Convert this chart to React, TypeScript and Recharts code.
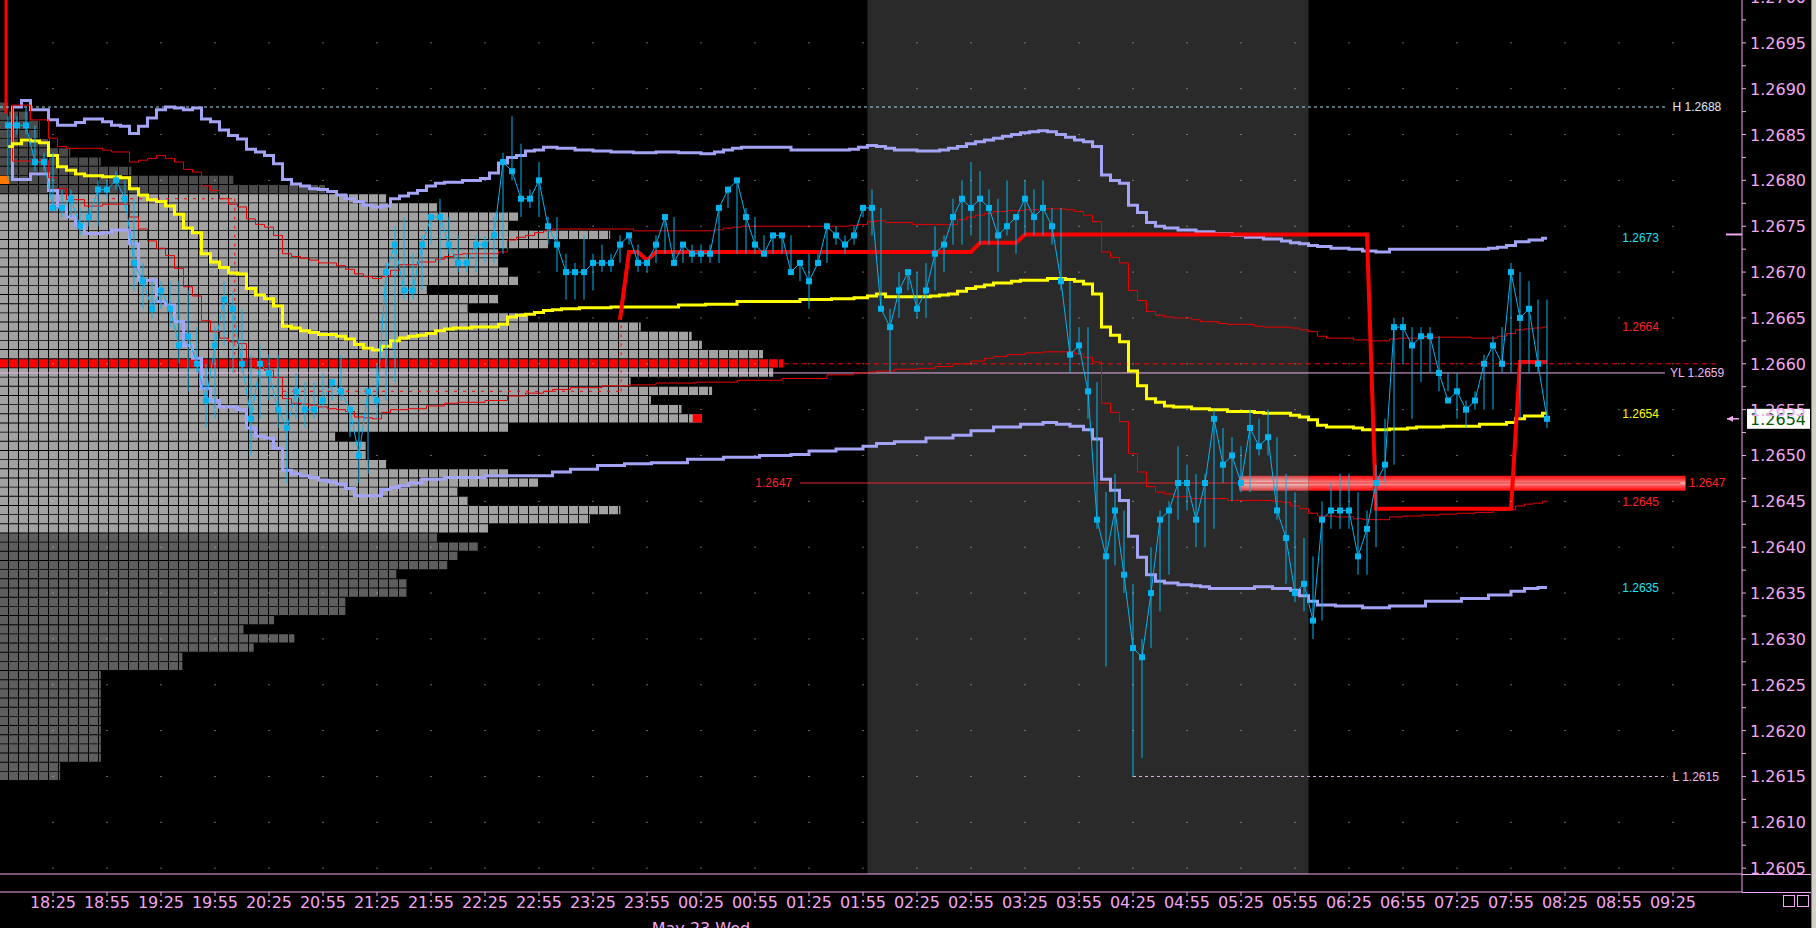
import React from 'react';
import {
  ComposedChart, Line, XAxis, YAxis, ReferenceArea, ReferenceLine,
  ReferenceDot, Scatter, ErrorBar,
} from 'recharts';

// ---------------- data ----------------
const BAR_MINUTES = 5; // 5-minute bars, bar 0 = 18:00
const PIP = 0.0001;

const TIME_LABELS = ['18:25','18:55','19:25','19:55','20:25','20:55','21:25','21:55','22:25','22:55','23:25','23:55','00:25','00:55','01:25','01:55','02:25','02:55','03:25','03:55','04:25','04:55','05:25','05:55','06:25','06:55','07:25','07:55','08:25','08:55','09:25'];
const DATE_LABEL = 'May 23 Wed';
const DATE_UNDER = '00:25';
const PRICE_LABELS = ['1.2605','1.2610','1.2615','1.2620','1.2625','1.2630','1.2635','1.2640','1.2645','1.2650','1.2655','1.2660','1.2665','1.2670','1.2675','1.2680','1.2685','1.2690','1.2695','1.2700'];

const CLOSES = [
  1.2686,1.2686,1.2686,1.2682,1.2682,1.2677,1.2677,1.2678,1.2675,1.2676,
  1.2679,1.2679,1.2680,1.2678,1.2671,1.2669,1.2666,1.2668,1.2666,1.2662,
  1.2663,1.2660,1.2656,1.2662,1.2667,1.2666,1.2660,1.2654,1.2660,1.2659,
  1.2655,1.2653,1.2657,1.2655,1.2655,1.2656,1.2658,1.2657,1.2655,1.2650,
  1.2657,1.2656,1.2670,1.2673,1.2668,1.2668,1.2673,1.2676,1.2676,1.2673,
  1.2671,1.2671,1.2673,1.2673,1.2674,1.2682,1.2681,1.2678,1.2678,1.2680,
  1.2675,1.2673,1.2670,1.2670,1.2670,1.2671,1.2671,1.2671,1.2673,1.2674,
  1.2671,1.2671,1.2673,1.2676,1.2671,1.2673,1.2672,1.2672,1.2672,1.2677,
  1.2679,1.2680,1.2676,1.2673,1.2672,1.2674,1.2674,1.2670,1.2671,1.2669,
  1.2671,1.2675,1.2674,1.2673,1.2674,1.2677,1.2677,1.2666,1.2664,1.2668,
  1.2670,1.2666,1.2668,1.2672,1.2673,1.2676,1.2678,1.2677,1.2678,1.2677,
  1.2674,1.2675,1.2676,1.2678,1.2676,1.2677,1.2675,1.2669,1.2661,1.2662,
  1.2657,1.2643,1.2639,1.2644,1.2637,1.2629,1.2628,1.2635,1.2643,1.2644,
  1.2647,1.2647,1.2643,1.2647,1.2654,1.2649,1.2650,1.2647,1.2653,1.2651,
  1.2652,1.2644,1.2641,1.2635,1.2636,1.2632,1.2643,1.2644,1.2644,1.2644,
  1.2639,1.2642,1.2647,1.2649,1.2664,1.2664,1.2662,1.2663,1.2663,1.2659,
  1.2656,1.2657,1.2655,1.2656,1.2660,1.2662,1.2660,1.2670,1.2665,1.2666,
  1.2660,1.2654,
];
const HIGHS = [
  1.2687,1.2687,1.2688,1.2686,1.2683,1.2683,1.2679,1.2679,1.2677,1.2677,
  1.2680,1.2680,1.2681,1.2680,1.2678,1.2671,1.2669,1.2669,1.2669,1.2669,
  1.2668,1.2664,1.2660,1.2664,1.2669,1.2668,1.2666,1.2661,1.2662,1.2661,
  1.2661,1.2657,1.2659,1.2658,1.2658,1.2659,1.2658,1.2661,1.2655,1.2654,
  1.2657,1.2660,1.2671,1.2675,1.2676,1.2672,1.2674,1.2676,1.2678,1.2676,
  1.2674,1.2672,1.2674,1.2674,1.2676,1.2683,1.2687,1.2684,1.2679,1.2682,
  1.2676,1.2676,1.2672,1.2671,1.2674,1.2672,1.2673,1.2672,1.2674,1.2674,
  1.2673,1.2671,1.2674,1.2676,1.2676,1.2673,1.2673,1.2673,1.2673,1.2677,
  1.2679,1.2680,1.2677,1.2676,1.2674,1.2674,1.2674,1.2674,1.2671,1.2672,
  1.2672,1.2675,1.2675,1.2674,1.2675,1.2677,1.2679,1.2677,1.2666,1.2670,
  1.2670,1.2670,1.2671,1.2675,1.2674,1.2678,1.2680,1.2682,1.2681,1.2679,
  1.2678,1.2680,1.2676,1.2680,1.2679,1.2680,1.2677,1.2677,1.2669,1.2664,
  1.2664,1.2658,1.2646,1.2648,1.2644,1.2636,1.2630,1.2640,1.2644,1.2645,
  1.2651,1.2649,1.2648,1.2648,1.2655,1.2653,1.2652,1.2651,1.2655,1.2654,
  1.2655,1.2652,1.2648,1.2646,1.2641,1.2639,1.2645,1.2647,1.2648,1.2648,
  1.2646,1.2644,1.2649,1.2654,1.2665,1.2665,1.2664,1.2664,1.2664,1.2663,
  1.2659,1.2659,1.2656,1.2657,1.2661,1.2663,1.2664,1.2671,1.2670,1.2669,
  1.2667,1.2667,
];
const LOWS = [
  1.2680,1.2685,1.2685,1.2681,1.2681,1.2677,1.2676,1.2676,1.2674,1.2675,
  1.2675,1.2678,1.2679,1.2677,1.2668,1.2666,1.2665,1.2666,1.2664,1.2660,
  1.2657,1.2659,1.2653,1.2654,1.2662,1.2659,1.2659,1.2650,1.2654,1.2656,
  1.2653,1.2647,1.2654,1.2653,1.2654,1.2655,1.2656,1.2656,1.2652,1.2647,
  1.2648,1.2654,1.2656,1.2658,1.2667,1.2667,1.2668,1.2673,1.2671,1.2672,
  1.2670,1.2670,1.2670,1.2671,1.2671,1.2672,1.2680,1.2676,1.2677,1.2676,
  1.2673,1.2670,1.2667,1.2667,1.2667,1.2668,1.2670,1.2670,1.2671,1.2673,
  1.2670,1.2670,1.2671,1.2672,1.2671,1.2671,1.2671,1.2671,1.2671,1.2671,
  1.2677,1.2672,1.2672,1.2672,1.2672,1.2672,1.2672,1.2670,1.2669,1.2666,
  1.2671,1.2671,1.2673,1.2672,1.2673,1.2676,1.2674,1.2666,1.2659,1.2665,
  1.2668,1.2665,1.2665,1.2668,1.2670,1.2673,1.2673,1.2674,1.2673,1.2673,
  1.2670,1.2674,1.2672,1.2674,1.2674,1.2674,1.2673,1.2668,1.2659,1.2661,
  1.2654,1.2642,1.2627,1.2638,1.2635,1.2615,1.2617,1.2629,1.2633,1.2637,
  1.2643,1.2644,1.2640,1.2640,1.2642,1.2647,1.2645,1.2646,1.2646,1.2650,
  1.2650,1.2643,1.2636,1.2634,1.2633,1.2630,1.2632,1.2642,1.2642,1.2642,
  1.2637,1.2637,1.2640,1.2647,1.2649,1.2660,1.2654,1.2658,1.2659,1.2657,
  1.2657,1.2654,1.2653,1.2655,1.2655,1.2655,1.2659,1.2659,1.2654,1.2659,
  1.2659,1.2653,
];

// stepped study lines: [bar, value]
const UPPER_OUTER = [[0,1.26837],[1,1.26880],[2,1.26887],[3,1.26877],[4,1.26877],[5,1.26866],[6,1.26860],[7,1.26860],[8,1.26863],[9,1.26867],[10,1.26867],[11,1.26864],[12,1.26860],[13,1.26859],[14,1.26851],[15,1.26859],[16,1.26868],[17,1.26877],[18,1.26880],[19,1.26879],[20,1.26877],[21,1.26879],[22,1.26867],[23,1.26864],[24,1.26855],[25,1.26849],[26,1.26845],[27,1.26834],[28,1.26831],[29,1.26827],[30,1.26818],[31,1.26801],[32,1.26796],[33,1.26794],[34,1.26791],[35,1.26790],[36,1.26788],[37,1.26784],[38,1.26780],[39,1.26777],[40,1.26773],[41,1.26771],[42,1.26772],[43,1.26780],[44,1.26783],[45,1.26786],[46,1.26789],[47,1.26794],[48,1.26797],[49,1.26798],[50,1.26798],[51,1.26800],[52,1.26800],[53,1.26802],[54,1.26808],[55,1.26819],[56,1.26825],[57,1.26827],[58,1.26832],[59,1.26833],[60,1.26836],[62,1.26835],[64,1.26833],[66,1.26832],[68,1.26831],[71,1.26830],[73,1.26831],[76,1.26830],[78,1.26829],[79,1.26831],[80,1.26833],[81,1.26835],[82,1.26836],[86,1.26836],[88,1.26833],[93,1.26833],[94,1.26834],[95,1.26836],[96,1.26838],[97,1.26837],[98,1.26835],[99,1.26833],[103,1.26832],[104,1.26833],[105,1.26835],[106,1.26837],[107,1.26840],[108,1.26842],[109,1.26844],[110,1.26846],[111,1.26848],[112,1.26850],[113,1.26852],[114,1.26853],[115,1.26854],[116,1.26853],[117,1.26850],[118,1.26847],[119,1.26844],[120,1.26842],[121,1.26837],[122,1.26806],[123,1.26800],[124,1.26797],[125,1.26773],[126,1.26765],[127,1.26754],[128,1.26750],[129,1.26748],[131,1.26746],[133,1.26744],[135,1.26742],[137,1.26740],[138,1.26738],[141,1.26736],[142,1.26734],[143,1.26732],[144,1.26731],[145,1.26729],[146,1.26728],[148,1.26726],[150,1.26725],[151,1.26723],[153,1.26722],[154,1.26725],[164,1.26725],[165,1.26726],[166,1.26727],[167,1.26729],[168,1.26733],[170,1.26735],[171,1.26737]];
const LOWER_OUTER = [[0,1.26837],[1,1.26801],[2,1.26801],[3,1.26807],[4,1.26807],[5,1.26789],[6,1.26771],[7,1.26760],[8,1.26751],[9,1.26742],[10,1.26742],[11,1.26743],[12,1.26746],[13,1.26746],[14,1.26731],[15,1.26691],[16,1.26691],[17,1.26668],[18,1.26664],[19,1.26646],[20,1.26620],[21,1.26606],[22,1.26573],[23,1.26560],[24,1.26553],[25,1.26553],[26,1.26550],[27,1.26530],[28,1.26521],[29,1.26519],[30,1.26508],[31,1.26484],[32,1.26480],[33,1.26478],[34,1.26476],[35,1.26473],[36,1.26471],[37,1.26469],[38,1.26464],[39,1.26456],[40,1.26456],[41,1.26456],[42,1.26463],[43,1.26465],[44,1.26467],[45,1.26470],[47,1.26474],[50,1.26476],[56,1.26478],[60,1.26478],[61,1.26482],[64,1.26485],[67,1.26489],[70,1.26491],[73,1.26492],[78,1.26496],[81,1.26498],[86,1.26500],[88,1.26501],[90,1.26505],[94,1.26507],[96,1.26510],[97,1.26513],[100,1.26515],[104,1.26519],[106,1.26522],[108,1.26527],[111,1.26531],[114,1.26534],[116,1.26536],[117,1.26534],[119,1.26532],[120,1.26528],[121,1.26518],[122,1.26474],[123,1.26462],[124,1.26451],[125,1.26412],[126,1.26389],[127,1.26370],[128,1.26363],[129,1.26361],[131,1.26359],[132,1.26358],[133,1.26357],[134,1.26355],[138,1.26355],[139,1.26357],[140,1.26357],[141,1.26355],[142,1.26355],[143,1.26353],[144,1.26347],[145,1.26341],[146,1.26337],[147,1.26337],[148,1.26336],[150,1.26336],[151,1.26334],[152,1.26334],[155,1.26336],[160,1.26341],[163,1.26344],[166,1.26348],[168,1.26352],[169,1.26355],[171,1.26356]];
const UPPER_INNER = [[0,1.26837],[1,1.26882],[2,1.26882],[3,1.26866],[4,1.26866],[5,1.26846],[6,1.26837],[7,1.26835],[10,1.26835],[11,1.26833],[12,1.26831],[13,1.26831],[14,1.26820],[15,1.26822],[16,1.26824],[17,1.26827],[18,1.26824],[19,1.26820],[20,1.26812],[21,1.26809],[22,1.26794],[23,1.26789],[24,1.26780],[25,1.26774],[26,1.26771],[27,1.26758],[28,1.26752],[29,1.26749],[30,1.26740],[31,1.26720],[32,1.26717],[33,1.26715],[34,1.26713],[35,1.26710],[36,1.26710],[37,1.26707],[38,1.26703],[39,1.26698],[40,1.26695],[41,1.26693],[42,1.26695],[43,1.26702],[44,1.26708],[47,1.26711],[48,1.26714],[49,1.26717],[50,1.26719],[51,1.26720],[54,1.26720],[55,1.26722],[56,1.26735],[57,1.26738],[58,1.26740],[59,1.26743],[60,1.26745],[61,1.26747],[69,1.26747],[70,1.26745],[78,1.26745],[79,1.26746],[80,1.26748],[81,1.26749],[82,1.26750],[93,1.26750],[94,1.26751],[95,1.26752],[96,1.26755],[97,1.26756],[98,1.26754],[100,1.26754],[101,1.26752],[105,1.26752],[106,1.26757],[107,1.26760],[108,1.26762],[109,1.26764],[110,1.26766],[112,1.26767],[114,1.26768],[116,1.26769],[117,1.26769],[118,1.26768],[119,1.26766],[120,1.26762],[121,1.26755],[122,1.26722],[123,1.26716],[124,1.26710],[125,1.26680],[126,1.26669],[127,1.26657],[128,1.26653],[129,1.26651],[130,1.26650],[131,1.26650],[132,1.26648],[133,1.26646],[134,1.26646],[135,1.26644],[136,1.26643],[138,1.26643],[139,1.26641],[140,1.26640],[142,1.26640],[143,1.26639],[144,1.26637],[145,1.26635],[146,1.26630],[147,1.26628],[149,1.26628],[150,1.26626],[151,1.26626],[152,1.26625],[153,1.26625],[154,1.26627],[155,1.26628],[157,1.26628],[158,1.26629],[162,1.26629],[163,1.26628],[165,1.26628],[166,1.26630],[167,1.26633],[168,1.26637],[169,1.26638],[170,1.26639],[171,1.26640]];
const LOWER_INNER = [[0,1.26837],[1,1.26821],[2,1.26821],[3,1.26822],[4,1.26822],[5,1.26803],[6,1.26791],[7,1.26779],[8,1.26779],[9,1.26772],[10,1.26772],[11,1.26774],[13,1.26774],[14,1.26760],[15,1.26747],[16,1.26734],[17,1.26726],[18,1.26718],[19,1.26704],[20,1.26684],[21,1.26674],[22,1.26647],[23,1.26635],[24,1.26628],[25,1.26624],[26,1.26622],[27,1.26606],[28,1.26595],[29,1.26593],[30,1.26585],[31,1.26562],[32,1.26557],[33,1.26556],[34,1.26555],[35,1.26553],[36,1.26551],[37,1.26550],[38,1.26548],[39,1.26542],[40,1.26541],[41,1.26540],[42,1.26547],[43,1.26550],[44,1.26550],[45,1.26551],[48,1.26554],[49,1.26557],[51,1.26558],[55,1.26560],[56,1.26565],[59,1.26568],[60,1.26570],[61,1.26572],[64,1.26574],[68,1.26576],[70,1.26577],[74,1.26579],[79,1.26580],[83,1.26582],[89,1.26584],[93,1.26588],[95,1.26590],[96,1.26591],[97,1.26592],[100,1.26594],[102,1.26595],[104,1.26597],[106,1.26600],[108,1.26603],[109,1.26606],[110,1.26608],[112,1.26610],[114,1.26612],[116,1.26613],[118,1.26613],[119,1.26611],[120,1.26607],[121,1.26602],[122,1.26557],[123,1.26547],[124,1.26537],[125,1.26502],[126,1.26482],[127,1.26466],[128,1.26460],[129,1.26458],[130,1.26455],[131,1.26455],[132,1.26453],[135,1.26453],[136,1.26451],[140,1.26451],[141,1.26450],[142,1.26449],[143,1.26445],[144,1.26442],[145,1.26437],[146,1.26434],[149,1.26433],[150,1.26431],[151,1.26430],[153,1.26430],[154,1.26433],[156,1.26434],[158,1.26435],[160,1.26436],[162,1.26437],[164,1.26438],[166,1.26440],[167,1.26441],[168,1.26445],[169,1.26447],[170,1.26448],[171,1.26450]];
const VWAP = [[0,1.26837],[1,1.26840],[2,1.26844],[3,1.26843],[4,1.26841],[5,1.26827],[6,1.26815],[7,1.26811],[8,1.26807],[9,1.26805],[10,1.26805],[11,1.26804],[12,1.26804],[13,1.26803],[14,1.26791],[15,1.26784],[16,1.26779],[17,1.26777],[18,1.26772],[19,1.26763],[20,1.26748],[21,1.26743],[22,1.26720],[23,1.26711],[24,1.26705],[25,1.26699],[26,1.26698],[27,1.26682],[28,1.26675],[29,1.26671],[30,1.26663],[31,1.26641],[32,1.26639],[33,1.26636],[34,1.26634],[35,1.26632],[36,1.26632],[37,1.26630],[38,1.26627],[39,1.26621],[40,1.26617],[41,1.26615],[42,1.26619],[43,1.26625],[44,1.26628],[45,1.26630],[46,1.26631],[47,1.26633],[48,1.26636],[49,1.26638],[50,1.26639],[51,1.26639],[52,1.26640],[54,1.26640],[55,1.26643],[56,1.26651],[57,1.26653],[58,1.26654],[59,1.26656],[60,1.26658],[61,1.26659],[62,1.26660],[63,1.26660],[64,1.26661],[66,1.26661],[68,1.26662],[73,1.26662],[76,1.26664],[79,1.26665],[83,1.26668],[86,1.26668],[90,1.26670],[93,1.26671],[95,1.26672],[96,1.26674],[97,1.26676],[98,1.26673],[102,1.26673],[103,1.26674],[104,1.26675],[105,1.26676],[106,1.26679],[107,1.26682],[108,1.26684],[109,1.26686],[110,1.26688],[111,1.26688],[112,1.26690],[113,1.26691],[115,1.26691],[116,1.26693],[117,1.26693],[118,1.26692],[119,1.26690],[120,1.26687],[121,1.26676],[122,1.26640],[123,1.26631],[124,1.26624],[125,1.26592],[126,1.26576],[127,1.26562],[128,1.26558],[129,1.26554],[130,1.26553],[131,1.26553],[132,1.26551],[133,1.26551],[134,1.26550],[135,1.26550],[136,1.26548],[138,1.26548],[139,1.26547],[140,1.26546],[142,1.26546],[143,1.26544],[144,1.26542],[145,1.26539],[146,1.26533],[147,1.26531],[149,1.26531],[150,1.26530],[151,1.26528],[153,1.26528],[154,1.26529],[155,1.26529],[156,1.26530],[157,1.26531],[159,1.26531],[160,1.26532],[163,1.26532],[164,1.26534],[166,1.26534],[167,1.26536],[168,1.26540],[169,1.26543],[170,1.26543],[171,1.26546]];
const RANGE_LINE = [[68,1.26648],[69,1.26722],[70,1.26722],[71,1.26713],[72,1.26722],[107,1.26722],[108,1.26732],[112,1.26732],[113,1.26741],[151,1.26741],[152,1.26442],[167,1.26442],[168,1.26602],[171,1.26602]];

// TPO / market profile: blocks per price row, from the top row downward
const PROFILE_TOP = 1.2688;
const PROFILE_COUNTS = [
  1,3,4,4,5,7,10,13,23,32,
  38,43,51,50,60,54,49,49,50,51,
  42,49,46,52,63,68,69,75,77,76,
  62,70,64,67,69,50,33,36,36,38,
  50,53,45,46,61,58,48,43,47,45,
  44,39,40,40,34,34,27,24,29,25,
  18,18,10,10,10,10,10,10,10,10,
  10,10,6,6,
];
const VA_HIGH = 1.2678;
const VA_LOW = 1.2642;
const POC = 1.2660;
const PROFILE_MARKS = [
  { price: 1.2680, block: 0, fill: '#ff7800' },
  { price: 1.2654, block: 68, fill: '#ff0000' },
];

// key levels
const SESSION_HIGH = 1.2688;
const SESSION_LOW = 1.2615;
const YESTERDAY_LOW = 1.2659;
const SUPPORT_LEVEL = 1.2647;

// time (minutes after 18:00) of level lines / areas
const SESSION_SHADE: [number, number] = [477.5, 722.5];
const LEVEL_LINE_END = 920.5;
const SUPPORT_LINE: [number, number] = [440, 929];
const GLOW: [number, number] = [684, 932];
const POC_EXT: [number, number] = [431, 950];
const LABEL_TIME = 907;
const VA_DOTS = [
  [[57.8, 1.2678], [126, 1.2678]],
  [[126, 1.2678], [126, 1.2659]],
  [[152.8, 1.2657], [340.6, 1.2657]],
  [[340.6, 1.2657], [340.6, 1.26648]],
];
const PRIOR_MARK = [[-1.1, 1.26997], [-1.1, 1.26873]];

// ---------------- layout ----------------
const W = 1816;
const H = 928;
const AXIS_W = 74;
const XAXIS_H = 36;
const M_DOMAIN: [number, number] = [-4.4444, 963.3333];
const P_DOMAIN: [number, number] = [1.26024, 1.269967];
const TPO_DOMAIN: [number, number] = [-0.9, 173.3];
const FRAME_PRICE = 1.260436;

const PINK = '#f2a8f2';
const BLUE = '#00b4f0';
const LAVENDER = '#a4a4f6';
const RED = '#ff0000';
const THIN_RED = '#e80000';
const YELLOW = '#ffff00';
const FONT = "'DejaVu Sans', sans-serif";
const SMALL_FONT = "'Liberation Sans', Arial, sans-serif";

const toMin = (t: string) => {
  const [h, mm] = t.split(':').map(Number);
  let v = h * 60 + mm - 18 * 60;
  if (v < 0) v += 1440;
  return v;
};
const minToLabel = (m: number) => {
  const total = (18 * 60 + Math.round(m)) % 1440;
  const h = Math.floor(total / 60);
  const mm = total % 60;
  return `${String(h).padStart(2, '0')}:${String(mm).padStart(2, '0')}`;
};
const trunc4 = (v: number) => (Math.floor(v * 10000 + 1e-6) / 10000).toFixed(4);

const rows: any[] = CLOSES.map((c, i) => ({
  m: i * BAR_MINUTES,
  close: c,
  err: [+(c - LOWS[i]).toFixed(5), +(HIGHS[i] - c).toFixed(5)],
}));
const put = (key: string, pts: number[][]) => pts.forEach(([b, v]) => { rows[b][key] = v; });
put('upperOuter', UPPER_OUTER);
put('lowerOuter', LOWER_OUTER);
put('upperInner', UPPER_INNER);
put('lowerInner', LOWER_INNER);
put('vwap', VWAP);
put('range', RANGE_LINE);

const TIME_TICKS = TIME_LABELS.map(toMin);
const MAJOR_TICKS = PRICE_LABELS.map(Number);
const PRICE_TICKS = [...MAJOR_TICKS, ...MAJOR_TICKS.slice(0, -1).map((p) => +(p + 0.00025).toFixed(5))].sort((a, b) => a - b);
const GRID_DOTS = TIME_TICKS.flatMap((m) => MAJOR_TICKS.map((p) => ({ m, p })));

const LAST = CLOSES[CLOSES.length - 1];
const LOW_TIME = LOWS.indexOf(Math.min(...LOWS)) * BAR_MINUTES;
const RANGE_HIGH = Math.max(...RANGE_LINE.map((d) => d[1]));
const lastOf = (pts: number[][]) => pts[pts.length - 1][1];
const END_LABELS = [
  { v: lastOf(UPPER_OUTER), color: '#20e0f0' },
  { v: lastOf(UPPER_INNER), color: '#ff2020' },
  { v: lastOf(VWAP), color: '#ffff00' },
  { v: lastOf(LOWER_INNER), color: '#ff2020' },
  { v: lastOf(LOWER_OUTER), color: '#20e0f0' },
];

// ---------------- ticks ----------------
function PriceTick(props: any) {
  const { x, y, payload } = props;
  const v = payload.value as number;
  const major = Math.round(v * 100000) % 50 === 0;
  const ax = x - 8;
  return (
    <g>
      <line x1={ax} x2={ax + 4} y1={y} y2={y} stroke={PINK} strokeWidth={1} />
      {major && (
        <text x={ax + 8} y={y + 6} fill={PINK} fontSize={16} fontFamily={FONT}>{v.toFixed(4)}</text>
      )}
    </g>
  );
}

function TimeTick(props: any) {
  const { x, y, payload } = props;
  const label = minToLabel(payload.value);
  const axisY = y - 6;
  return (
    <g>
      <line x1={x} x2={x} y1={axisY} y2={axisY + 4} stroke={PINK} />
      <text x={x} y={axisY + 16} textAnchor="middle" fill={PINK} fontSize={16} fontFamily={FONT}>{label}</text>
      {label === DATE_UNDER && (
        <text x={x} y={axisY + 42} textAnchor="middle" fill={PINK} fontSize={16} fontFamily={FONT}>{DATE_LABEL}</text>
      )}
    </g>
  );
}

const LastPriceTag = (props: any) => {
  const vb = props.viewBox || {};
  const cx = (vb.x || 0) + (vb.width || 0) / 2;
  const cy = (vb.y || 0) + (vb.height || 0) / 2;
  return (
    <g>
      <path d={`M${cx - 15},${cy} L${cx - 3},${cy}`} stroke={PINK} strokeWidth={1.5} />
      <path d={`M${cx - 15},${cy} L${cx - 9},${cy - 3} L${cx - 9},${cy + 3} Z`} fill={PINK} />
      <rect x={cx + 5} y={cy - 10} width={63} height={20} fill="#ffffff" />
      <text x={cx + 8} y={cy + 6} fill="#005a00" fontSize={16} fontFamily={FONT}>{LAST.toFixed(4)}</text>
    </g>
  );
};

const squareDot = (p: any) => (
  <rect key={`d${p.index}`} x={p.cx - 3} y={p.cy - 3} width={6} height={6} fill={BLUE} />
);

const smallLabel = (value: string, fill: string, position: any, offset = 5) => ({
  value, position, fill, fontSize: 12, fontFamily: SMALL_FONT, offset,
});

export default function App() {
  return (
    <div style={{ position: 'fixed', left: 0, top: 0, width: W, height: H, background: '#000', overflow: 'hidden' }}>
      <svg width={0} height={0} style={{ position: 'absolute', left: 0, top: 0 }}>
        <defs>
          <pattern id="tpoLight" patternUnits="userSpaceOnUse" x={9} y={0} width={10} height={20}>
            <rect x={0} y={0} width={9} height={20} fill="#a2a2a2" />
          </pattern>
          <pattern id="tpoDarkUp" patternUnits="userSpaceOnUse" x={9} y={0} width={10} height={20}>
            <rect x={0} y={0} width={9} height={20} fill="#4a4a4a" />
          </pattern>
          <pattern id="tpoDarkLow" patternUnits="userSpaceOnUse" x={9} y={0} width={10} height={20}>
            <rect x={0} y={0} width={9} height={20} fill="#5e5e5e" />
          </pattern>
          <pattern id="tpoRed" patternUnits="userSpaceOnUse" x={9} y={0} width={10} height={20}>
            <rect x={0} y={0} width={9} height={20} fill="#ff0000" />
          </pattern>
          <linearGradient id="glowRed" x1="0" y1="0" x2="0" y2="1">
            <stop offset="0%" stopColor="#ff0a0a" />
            <stop offset="30%" stopColor="#ff4a4a" />
            <stop offset="50%" stopColor="#ffa8a8" />
            <stop offset="70%" stopColor="#ff4a4a" />
            <stop offset="100%" stopColor="#ff0a0a" />
          </linearGradient>
          <linearGradient id="glowPale" x1="0" y1="0" x2="0" y2="1">
            <stop offset="0%" stopColor="#d83a3a" />
            <stop offset="35%" stopColor="#e89a9a" />
            <stop offset="50%" stopColor="#e8d8d8" />
            <stop offset="65%" stopColor="#e89a9a" />
            <stop offset="100%" stopColor="#d83a3a" />
          </linearGradient>
        </defs>
      </svg>

      <ComposedChart width={W} height={H} data={rows} margin={{ top: 0, right: 0, bottom: 0, left: 0 }}>
        <XAxis
          dataKey="m" type="number" domain={M_DOMAIN} allowDataOverflow ticks={TIME_TICKS} interval={0}
          height={XAXIS_H} tick={<TimeTick />} tickLine={false} tickSize={4} tickMargin={2}
          axisLine={{ stroke: PINK }}
        />
        <XAxis xAxisId="tpo" type="number" domain={TPO_DOMAIN} allowDataOverflow hide />
        <YAxis
          orientation="right" type="number" domain={P_DOMAIN} allowDataOverflow ticks={PRICE_TICKS} interval={0}
          width={AXIS_W} tick={<PriceTick />} tickLine={false} tickSize={6} tickMargin={2}
          axisLine={{ stroke: PINK }}
        />

        {/* overnight session shading */}
        <ReferenceArea x1={SESSION_SHADE[0]} x2={SESSION_SHADE[1]} y1={FRAME_PRICE} y2={P_DOMAIN[1]}
          fill="#2a2a2a" fillOpacity={1} stroke="none" ifOverflow="visible" />

        {/* grid dots */}
        <Scatter data={GRID_DOTS} dataKey="p" isAnimationActive={false}
          shape={(p: any) => <rect x={p.cx - 0.5} y={p.cy - 0.5} width={1} height={1} fill="#c8c8c8" />} />

        {/* market profile rows */}
        {PROFILE_COUNTS.map((n, i) => {
          const p = +(PROFILE_TOP - i * PIP).toFixed(4);
          const fill = Math.abs(p - POC) < 1e-7 ? 'url(#tpoRed)'
            : p > VA_HIGH + 1e-7 ? 'url(#tpoDarkUp)'
            : p < VA_LOW - 1e-7 ? 'url(#tpoDarkLow)' : 'url(#tpoLight)';
          return (
            <ReferenceArea key={`tpo${i}`} xAxisId="tpo" x1={0} x2={n - 0.1}
              y1={p - 0.00004} y2={p + 0.00005} fill={fill} fillOpacity={1} stroke="none" ifOverflow="visible" />
          );
        })}
        {PROFILE_MARKS.map((mk, i) => (
          <ReferenceArea key={`mk${i}`} xAxisId="tpo" x1={mk.block} x2={mk.block + 0.9}
            y1={mk.price - 0.00004} y2={mk.price + 0.00005} fill={mk.fill} fillOpacity={1} stroke="none" ifOverflow="visible" />
        ))}

        {/* value-area dotted markers */}
        {VA_DOTS.map((s, i) => (
          <ReferenceLine key={`va${i}`} segment={[{ x: s[0][0], y: s[0][1] }, { x: s[1][0], y: s[1][1] }]}
            stroke={RED} strokeDasharray="3 6" strokeWidth={1} ifOverflow="visible" />
        ))}
        <ReferenceLine segment={[{ x: PRIOR_MARK[0][0], y: PRIOR_MARK[0][1] }, { x: PRIOR_MARK[1][0], y: PRIOR_MARK[1][1] }]}
          stroke={RED} strokeWidth={3} ifOverflow="visible" />

        {/* level lines */}
        <ReferenceLine segment={[{ x: M_DOMAIN[0], y: SESSION_HIGH }, { x: LEVEL_LINE_END + 1.5, y: SESSION_HIGH }]}
          stroke="#a8dcec" strokeDasharray="3 3" ifOverflow="visible"
          label={smallLabel(`H ${SESSION_HIGH.toFixed(4)}`, '#e0e8f0', 'right', 5)} />
        <ReferenceLine segment={[{ x: M_DOMAIN[0], y: YESTERDAY_LOW }, { x: LEVEL_LINE_END, y: YESTERDAY_LOW }]}
          stroke="#e8b0e8" strokeWidth={1} ifOverflow="visible"
          label={smallLabel(`YL ${YESTERDAY_LOW.toFixed(4)}`, '#f0b8f0', 'right', 5)} />
        <ReferenceLine segment={[{ x: LOW_TIME, y: SESSION_LOW }, { x: LEVEL_LINE_END + 1.5, y: SESSION_LOW }]}
          stroke="#e8b0e8" strokeDasharray="3 3" ifOverflow="visible"
          label={smallLabel(`L ${SESSION_LOW.toFixed(4)}`, '#f0b8f0', 'right', 5)} />
        <ReferenceLine segment={[{ x: POC_EXT[0], y: POC }, { x: POC_EXT[1], y: POC }]}
          stroke={RED} strokeDasharray="5 4" ifOverflow="visible" />
        <ReferenceArea x1={SESSION_SHADE[1]} x2={GLOW[1]} y1={SUPPORT_LEVEL - 0.000085} y2={SUPPORT_LEVEL + 0.00008}
          fill="url(#glowRed)" fillOpacity={1} stroke="none" ifOverflow="visible" />
        <ReferenceArea x1={GLOW[0]} x2={SESSION_SHADE[1]} y1={SUPPORT_LEVEL - 0.000085} y2={SUPPORT_LEVEL + 0.00008}
          fill="url(#glowPale)" fillOpacity={1} stroke="none" ifOverflow="visible" />
        <ReferenceLine segment={[{ x: SUPPORT_LINE[0], y: SUPPORT_LEVEL }, { x: SUPPORT_LINE[1], y: SUPPORT_LEVEL }]}
          stroke="#e02828" strokeWidth={1} ifOverflow="visible"
          label={smallLabel(SUPPORT_LEVEL.toFixed(4), '#ff2020', 'left', 8)} />
        <ReferenceDot x={SUPPORT_LINE[1]} y={SUPPORT_LEVEL} r={0.5} fill="none" stroke="none" ifOverflow="visible"
          label={smallLabel(SUPPORT_LEVEL.toFixed(4), '#ff2020', 'right', 8)} />
        <ReferenceLine segment={[{ x: M_DOMAIN[0], y: FRAME_PRICE }, { x: M_DOMAIN[1], y: FRAME_PRICE }]}
          stroke={PINK} strokeWidth={1} ifOverflow="visible" />
        <ReferenceLine segment={[{ x: 954.4, y: RANGE_HIGH }, { x: M_DOMAIN[1], y: RANGE_HIGH }]}
          stroke={PINK} strokeWidth={2} ifOverflow="visible" />

        {/* studies */}
        <Line dataKey="upperOuter" type="step" stroke={LAVENDER} strokeWidth={3} dot={false} activeDot={false} connectNulls isAnimationActive={false} />
        <Line dataKey="lowerOuter" type="step" stroke={LAVENDER} strokeWidth={3} dot={false} activeDot={false} connectNulls isAnimationActive={false} />
        <Line dataKey="upperInner" type="step" stroke={THIN_RED} strokeWidth={1} dot={false} activeDot={false} connectNulls isAnimationActive={false} />
        <Line dataKey="lowerInner" type="step" stroke={THIN_RED} strokeWidth={1} dot={false} activeDot={false} connectNulls isAnimationActive={false} />
        <Line dataKey="vwap" type="step" stroke={YELLOW} strokeWidth={3} dot={false} activeDot={false} connectNulls isAnimationActive={false} />
        <Line dataKey="range" type="linear" stroke={RED} strokeWidth={4} dot={false} activeDot={false} connectNulls isAnimationActive={false} />

        {/* price bars */}
        <Line dataKey="close" type="linear" stroke={BLUE} strokeWidth={1} dot={squareDot} activeDot={false} isAnimationActive={false}>
          <ErrorBar dataKey="err" direction="y" width={0} stroke={BLUE} strokeWidth={1} isAnimationActive={false} />
        </Line>

        {/* end-of-line value labels */}
        {END_LABELS.map((l, i) => (
          <ReferenceDot key={`el${i}`} x={LABEL_TIME} y={l.v} r={0.5} fill="none" stroke="none" ifOverflow="visible"
            label={smallLabel(trunc4(l.v), l.color, 'center', 0)} />
        ))}
        <ReferenceDot x={M_DOMAIN[1]} y={LAST} r={0.5} fill="none" stroke="none" ifOverflow="visible"
          label={(p: any) => <LastPriceTag {...p} />} />
      </ComposedChart>

      {/* pane frame pieces in the price-axis column and window border */}
      <div style={{ position: 'absolute', left: 1742, top: 874, width: 69, height: 1, background: PINK }} />
      <div style={{ position: 'absolute', left: 1742, top: 892, width: 69, height: 1, background: PINK }} />
      <div style={{ position: 'absolute', left: 1783, top: 895, width: 10, height: 10, border: `1px solid ${PINK}` }} />
      <div style={{ position: 'absolute', left: 1797, top: 895, width: 10, height: 10, border: `1px solid ${PINK}` }} />
      <div style={{ position: 'absolute', left: 1811, top: 0, width: 1, height: H, background: '#808080' }} />
      <div style={{ position: 'absolute', left: 1812, top: 0, width: 4, height: H, background: '#d4d0c8' }} />
    </div>
  );
}
